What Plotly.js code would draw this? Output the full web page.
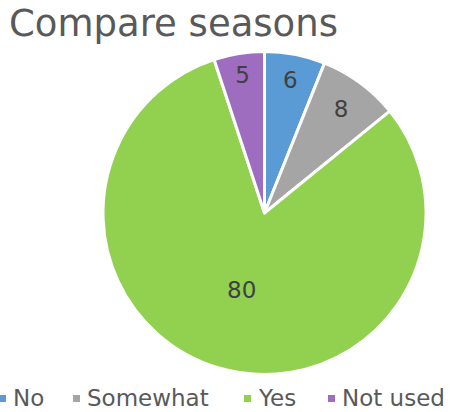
<!DOCTYPE html>
<html><head><meta charset="utf-8">
<script src="https://cdn.plot.ly/plotly-3.0.1.min.js"></script>
<style>html,body{margin:0;padding:0;background:#fff;}#chart{width:450px;height:412px;}</style>
</head><body><div id="chart"></div>
<script>
const categories = ["No", "Somewhat", "Yes", "Not used"];
const values = [6, 8, 80, 5];
const colors = ["#5B9BD5", "#A5A5A5", "#92D050", "#9E6DC0"];
const legendTextX = [14, 88, 259, 343];

const FONT = "DejaVu Sans, Verdana, sans-serif";
const W = 450, H = 412;
const legendY = 398;

const trace = {
  type: "pie",
  labels: categories,
  values: values,
  sort: false,
  direction: "clockwise",
  rotation: 0,
  marker: {colors: colors, line: {color: "#ffffff", width: 3}},
  textinfo: "value",
  textposition: "inside",
  insidetextorientation: "horizontal",
  textfont: {family: FONT, size: 23, color: "#404040"},
  domain: {x: [103/W, 426/W], y: [1 - 375/H, 1 - 51/H]},
  hoverinfo: "label+value",
  showlegend: false
};

const annotations = categories.map((c, i) => ({
  xref: "paper", yref: "paper",
  x: (legendTextX[i] - 3) / W, y: 1 - legendY/H,
  xanchor: "left", yanchor: "middle",
  showarrow: false,
  text: c,
  font: {family: FONT, size: 23, color: "#595959"}
}));

const shapes = categories.map((c, i) => {
  const cx = legendTextX[i] - 11;
  return {
    type: "rect", xref: "paper", yref: "paper",
    x0: (cx - 4)/W, x1: (cx + 3)/W,
    y0: 1 - (legendY + 4)/H, y1: 1 - (legendY - 3)/H,
    fillcolor: colors[i], line: {width: 0}
  };
});

const layout = {
  width: W, height: H,
  margin: {l: 0, r: 0, t: 0, b: 0},
  paper_bgcolor: "#ffffff",
  title: {text: "Compare seasons", x: 0.02, xanchor: "left", y: 0.975, yanchor: "top",
    font: {family: FONT, size: 37, color: "#595959"}},
  showlegend: false,
  annotations: annotations,
  shapes: shapes
};

Plotly.newPlot("chart", [trace], layout, {displayModeBar: false, staticPlot: true});
</script></body></html>
